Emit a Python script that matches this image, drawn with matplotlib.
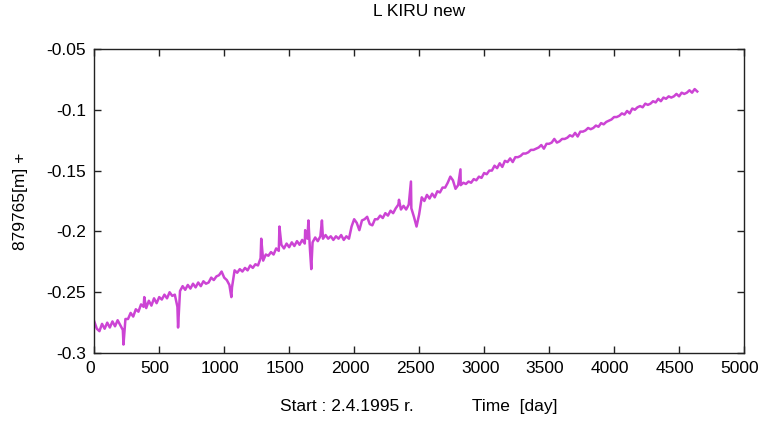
import numpy as np
import matplotlib
matplotlib.use("Agg")
import matplotlib.pyplot as plt
from matplotlib.transforms import ScaledTranslation

# daily solution sampled every 20 days
days = np.arange(0, 4641, 20)
vals = [
    -0.274, -0.280, -0.282, -0.276, -0.280, -0.275, -0.279, -0.274, -0.278, -0.273,
    -0.277, -0.281, -0.272, -0.272, -0.267, -0.270, -0.264, -0.266, -0.260, -0.262,
    -0.263, -0.257, -0.261, -0.255, -0.259, -0.254, -0.256, -0.252, -0.255, -0.250,
    -0.253, -0.252, -0.262, -0.249, -0.245, -0.248, -0.244, -0.247, -0.243, -0.246,
    -0.242, -0.245, -0.241, -0.243, -0.242, -0.238, -0.240, -0.237, -0.236, -0.233,
    -0.238, -0.240, -0.244, -0.246, -0.232, -0.234, -0.231, -0.233, -0.230, -0.232,
    -0.228, -0.230, -0.227, -0.228, -0.222, -0.224, -0.219, -0.220, -0.217, -0.219,
    -0.214, -0.216, -0.211, -0.214, -0.210, -0.213, -0.209, -0.212, -0.208, -0.211,
    -0.207, -0.210, -0.206, -0.215, -0.209, -0.205, -0.208, -0.204, -0.206, -0.203,
    -0.206, -0.204, -0.207, -0.204, -0.206, -0.203, -0.207, -0.204, -0.206, -0.196,
    -0.190, -0.193, -0.199, -0.191, -0.190, -0.188, -0.194, -0.195, -0.190, -0.190,
    -0.187, -0.189, -0.185, -0.187, -0.183, -0.185, -0.181, -0.178, -0.182, -0.179,
    -0.182, -0.178, -0.181, -0.188, -0.196, -0.186, -0.172, -0.175, -0.170, -0.173,
    -0.169, -0.172, -0.167, -0.168, -0.164, -0.164, -0.160, -0.155, -0.158, -0.165,
    -0.162, -0.162, -0.160, -0.161, -0.159, -0.160, -0.157, -0.158, -0.155, -0.156,
    -0.152, -0.153, -0.150, -0.150, -0.146, -0.148, -0.144, -0.147, -0.142, -0.143,
    -0.140, -0.143, -0.139, -0.139, -0.138, -0.136, -0.136, -0.135, -0.133, -0.133,
    -0.132, -0.131, -0.129, -0.132, -0.128, -0.128, -0.127, -0.124, -0.127, -0.126,
    -0.124, -0.124, -0.123, -0.121, -0.122, -0.119, -0.122, -0.118, -0.118, -0.117,
    -0.115, -0.116, -0.115, -0.113, -0.114, -0.111, -0.112, -0.110, -0.109, -0.108,
    -0.106, -0.106, -0.105, -0.103, -0.104, -0.101, -0.103, -0.099, -0.100, -0.098,
    -0.097, -0.098, -0.095, -0.096, -0.095, -0.093, -0.094, -0.091, -0.093, -0.090,
    -0.091, -0.089, -0.090, -0.089, -0.087, -0.089, -0.086, -0.087, -0.086, -0.084,
    -0.086, -0.083, -0.085,
]

# single-day outliers
spike_days = [225, 385, 645, 1055, 1285, 1425, 1623, 1648, 1670, 1752, 2345, 2437, 2818]
spike_vals = [-0.293, -0.254, -0.279, -0.254, -0.206, -0.196, -0.199, -0.191, -0.231,
              -0.191, -0.174, -0.159, -0.149]

x = np.concatenate([days, spike_days])
y = np.concatenate([vals, spike_vals])
order = np.argsort(x, kind="stable")
x, y = x[order], y[order]

plt.rcParams["font.family"] = ["Liberation Sans", "DejaVu Sans"]

fig = plt.figure(figsize=(7.6, 4.29), dpi=100)
ax = fig.add_axes([0.124, 0.177, 0.855, 0.709])
ax.plot(x, y, color="#cc44d4", lw=1.8)

ax.set_xlim(0, 5000)
ax.set_ylim(-0.3, -0.05)
ax.set_xticks(np.arange(0, 5001, 500))
ax.set_yticks([-0.3, -0.25, -0.2, -0.15, -0.1, -0.05])
ax.set_yticklabels(["-0.3", "-0.25", "-0.2", "-0.15", "-0.1", "-0.05"])
ax.tick_params(direction="in", length=5, width=1, top=True, right=True,
               labelsize=12.5, color="#222222", pad=6)
for s in ax.spines.values():
    s.set_color("#222222")
    s.set_linewidth(1.0)

# nudge x tick labels a little to the left so 5000 stays inside
shift = ScaledTranslation(-4 / 100, 0, fig.dpi_scale_trans)
for lab in ax.get_xticklabels():
    lab.set_transform(lab.get_transform() + shift)

ax.set_xlabel("Start : 2.4.1995 r.            Time  [day]", fontsize=12.5, labelpad=16)
ax.set_ylabel("879765[m] +", fontsize=12.5, labelpad=13)
ax.set_title("L KIRU new", fontsize=12.5, pad=24)

fig.savefig("out.png", dpi=100)
